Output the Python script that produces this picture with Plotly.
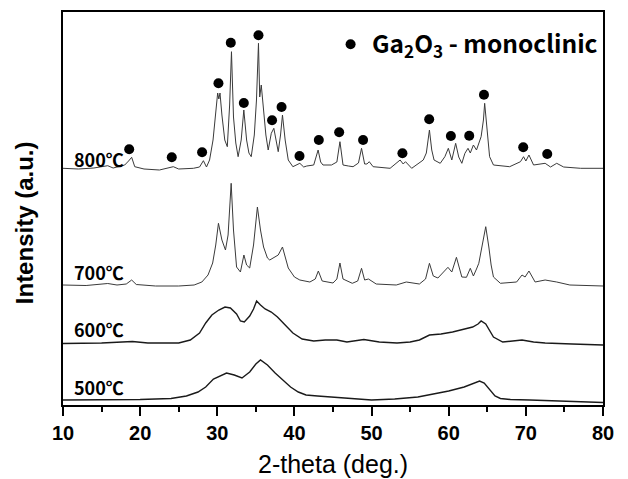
import plotly.graph_objects as go

# ---- data (intensity in arbitrary offset units) ----
t500_x = [10, 15, 20, 24, 26, 27.5, 28.5, 29.5, 30.5, 31.2, 32.2, 33.2, 34.2, 35.0, 35.6, 36.5, 37.5, 38.5,
          39.5, 40.5, 41.5, 43, 45, 47.5, 50, 53, 56, 58, 60, 62, 63, 64, 64.6, 65.3, 66, 66.7, 68, 70.5, 75, 80]
t500_y = [5, 5, 5.5, 6.5, 9, 13, 18, 26, 30, 32, 30, 27, 33, 41, 45, 40, 32, 25,
          18, 13, 10, 9, 8, 6, 5, 6, 8, 11, 14, 18, 21, 24, 22, 15, 9, 6.5, 5.5, 5, 4, 2.5]

t600_x = [10, 15, 19, 21, 25, 26.5, 27.7, 28.5, 29.3, 30.2, 31.0, 31.7, 32.5, 33.0, 33.5, 34.2, 34.7, 35.1,
          35.6, 36.2, 37, 37.8, 38.8, 39.8, 41, 42.5, 44, 45.5, 46.8, 49, 51, 53.3, 55, 56.2, 57.5, 59,
          60.5, 62, 63.1, 63.8, 64.2, 64.8, 65.3, 65.8, 67, 68.5, 69.5, 71, 72.5, 76, 80]
t600_y = [61.5, 62, 63.5, 62, 62, 65, 72, 82, 90, 95, 98, 97, 91, 84, 83, 89, 96, 104,
          100, 96, 93, 88, 80, 72, 66, 64, 65, 65, 63, 65.5, 63, 62, 63, 65, 70, 71,
          73, 76, 78, 81, 84, 81, 74, 68, 63, 64, 65, 63, 62, 61, 60]

t700_x = [10, 13, 15.8, 17, 18.2, 18.9, 19.5, 22, 25, 27, 28, 28.8, 29.4, 29.8, 30.15, 30.6, 31.06, 31.4,
          31.8, 32.1, 32.5, 33.0, 33.45, 33.8, 34.2, 34.7, 35.2, 35.6, 36.0, 36.5, 36.8, 37.4, 37.9, 38.45,
          39.2, 40.0, 40.7, 42, 42.7, 43.1, 43.6, 45.0, 45.5, 45.9, 46.3, 47.5, 48.2, 48.7, 49.1, 49.6,
          50.6, 53.2, 54.5, 56.2, 57.0, 57.5, 58.0, 58.6, 59.3, 59.9, 60.4, 61.0, 61.7, 62.3, 62.8, 63.2,
          63.6, 63.9, 64.3, 64.8, 65.2, 65.5, 65.8, 66.7, 68.8, 69.5, 69.9, 70.4, 71.2, 72.5, 74.0, 75.7, 80]
t700_y = [120, 119.5, 121.5, 120, 121, 125, 120.5, 119, 119, 120, 123, 130, 142, 160, 181.7, 165, 155, 170,
          221.7, 175, 138, 133, 150, 140, 137, 160, 198, 175, 158, 147, 145, 148, 150, 158,
          137, 128, 125, 123, 126, 134, 124, 122, 126, 142, 126, 121.7, 124, 136.7, 125, 126,
          121, 120, 123, 121, 126, 141.7, 129, 127, 133, 137.7, 133, 147.7, 128, 127.7, 136.7, 129,
          136, 141.7, 158, 178.3, 158, 140, 128, 121.7, 123, 130, 128, 134, 123, 125, 123, 120, 119]

t800_x = [10, 12, 14, 15.8, 16.5, 18.0, 18.5, 18.9, 19.3, 20.5, 22.5, 24.3, 25, 26.9, 27.7, 28.2, 28.6,
          29.0, 29.45, 29.8, 30.05, 30.2, 30.35, 30.6, 30.97, 31.3, 31.6, 31.84, 32.1, 32.4, 32.7, 33.1,
          33.44, 33.8, 34.1, 34.4, 34.8, 35.08, 35.34, 35.5, 35.7, 36.0, 36.3, 36.6, 37.0, 37.33, 37.6,
          37.9, 38.2, 38.45, 38.8, 39.2, 39.8, 40.3, 40.7, 41.2, 41.6, 42.5, 43.07, 43.4, 43.7, 44.8,
          45.5, 45.9, 46.3, 47.0, 47.6, 48.3, 48.7, 49.1, 49.4, 49.7, 50.2, 52.4, 53.7, 54.1, 54.4, 55.2,
          56.7, 57.1, 57.5, 57.8, 58.1, 58.9, 59.5, 59.95, 60.4, 60.9, 61.3, 61.7, 62.1, 62.5, 62.8,
          63.2, 63.6, 64.2, 64.5, 64.66, 64.9, 65.3, 65.8, 67.9, 69.3, 69.7, 70.0, 70.4, 71.0, 72.5,
          73.2, 74.0, 74.9, 77.1, 80]
t800_y = [236.7, 236, 237, 239.3, 237, 240, 244, 247.7, 238.3, 236, 235, 238.3, 236, 236.7, 238, 244.3, 238,
          245, 265, 290, 312, 306, 312, 290, 265, 258.3, 300, 353.3, 288, 262, 248.3, 265,
          295, 265, 252, 248.3, 270, 305, 361.7, 308, 320, 295, 270, 255, 271.7, 276.7, 265,
          253.3, 270, 290, 265, 245, 238.3, 240, 241.7, 238, 239, 240, 255, 243, 240, 240,
          243, 263.3, 240, 239, 238.3, 242, 256.7, 241, 241, 243.3, 238.3, 236.7, 245, 241, 243.3, 236.7,
          245, 252, 275, 255, 245, 241.7, 248.3, 256.7, 245, 261.7, 248, 241.7, 251.7, 256.7, 252,
          260, 255, 268.3, 285, 301.7, 278.3, 248.3, 240, 238.3, 243.3, 248.3, 244, 250, 240, 241.7,
          238, 241.7, 238, 236.7, 236.7]

mark_x = [18.58, 24.1, 28.03, 30.15, 31.75, 33.44, 35.34, 37.1, 38.33, 40.66, 43.16, 45.8,
          48.9, 54.0, 57.47, 60.28, 62.66, 64.57, 69.66, 72.77]
mark_y = [255.7, 247.7, 252.7, 321.7, 362.3, 302, 369.7, 284.7, 298, 249, 265, 272.8,
          265, 251.7, 285.7, 269, 269.3, 310.3, 257.7, 251]

labels = ["500℃", "600℃", "700℃", "800℃"]
label_y = [18.3, 76, 133.3, 246]

tick_vals = [10, 20, 30, 40, 50, 60, 70, 80]
tick_text = ["10", "20", "30", "40", "50", "60", "70", "80"]

# The page body has an 8px margin; the figure is offset so the plot sits where the reference has it.
W, H = 620, 471
OFF = 8
L, R, T, B = 63.3 - OFF, W - (603.3 - OFF), 12 - OFF, H - (405 - OFF)
PW, PH = W - L - R, H - T - B

def px_x(page_x):
    return (page_x - OFF - L) / PW

def px_y(page_y):
    return (H - B - (page_y - OFF)) / PH

# ---- figure ----
fig = go.Figure()
series = [(t500_x, t500_y, "#1a1a1a", 1.4), (t600_x, t600_y, "#1a1a1a", 1.4),
          (t700_x, t700_y, "#3a3a3a", 1.0), (t800_x, t800_y, "#3a3a3a", 1.0)]
for xs, ys, c, w in series:
    fig.add_trace(go.Scatter(x=xs, y=ys, mode="lines", line=dict(color=c, width=w),
                             showlegend=False, hoverinfo="skip"))

fig.add_trace(go.Scatter(x=mark_x, y=mark_y, mode="markers",
                         marker=dict(color="black", size=10), showlegend=False))
fig.add_trace(go.Scatter(x=[47.28], y=[360.7], mode="markers",
                         marker=dict(color="black", size=10), showlegend=False))

cjk = "Noto Sans CJK KR"
for lab, ly in zip(labels, label_y):
    fig.add_annotation(x=11.2, y=ly, xref="x", yref="y", text="<b>%s</b>" % lab,
                       showarrow=False, xanchor="left", yanchor="middle",
                       font=dict(family=cjk, size=18, color="black"))

fig.add_annotation(x=49.8, y=361, xref="x", yref="y",
                   text="<b>Ga<sub>2</sub>O<sub>3</sub> - monoclinic</b>",
                   showarrow=False, xanchor="left", yanchor="middle",
                   font=dict(family=cjk, size=24.5, color="black"))

fig.add_annotation(x=px_x(24.5), y=px_y(223), xref="paper", yref="paper",
                   text="<b>Intensity (a.u.)</b>", textangle=-90, showarrow=False,
                   xanchor="center", yanchor="middle",
                   font=dict(family="Liberation Sans, Arial", size=24, color="black"))
fig.add_annotation(x=px_x(333.5), y=px_y(464), xref="paper", yref="paper",
                   text="2-theta (deg.)", showarrow=False, xanchor="center", yanchor="middle",
                   font=dict(family="Liberation Sans, Arial", size=25, color="black"))

fig.update_xaxes(range=[10, 80], tickvals=tick_vals, ticktext=["<b>%s</b>" % t for t in tick_text],
                 ticks="outside", ticklen=9, tickwidth=2, tickcolor="black",
                 minor=dict(dtick=5, tick0=5, ticks="outside", ticklen=5, tickwidth=2, tickcolor="black"),
                 showline=True, linecolor="black", linewidth=2, mirror=True,
                 showgrid=False, zeroline=False,
                 tickfont=dict(family="Liberation Sans, Arial", size=20, color="black"))
fig.update_yaxes(range=[0, 393], showticklabels=False, ticks="", showline=True,
                 linecolor="black", linewidth=2, mirror=True, showgrid=False, zeroline=False)

fig.update_layout(width=W, height=H, margin=dict(l=L, r=R, t=T, b=B, autoexpand=False),
                  plot_bgcolor="white", paper_bgcolor="white", showlegend=False)

fig.write_html("out.html")
